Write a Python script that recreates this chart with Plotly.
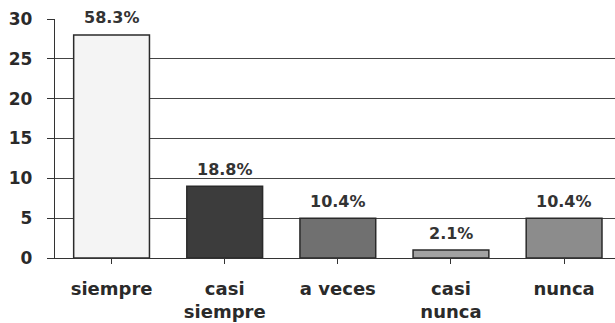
import plotly.graph_objects as go

categories = ["siempre", "casi<br>siempre", "a veces", "casi<br>nunca", "nunca"]
counts = [28, 9, 5, 1, 5]
percent_labels = ["58.3%", "18.8%", "10.4%", "2.1%", "10.4%"]
bar_colors = ["#f4f4f4", "#3c3c3c", "#707070", "#a2a2a2", "#8c8c8c"]
y_ticks = [0, 5, 10, 15, 20, 25, 30]

FONT = "DejaVu Sans, Liberation Sans, Arial, sans-serif"

fig = go.Figure()
fig.add_trace(go.Bar(
    x=list(range(len(categories))),
    y=counts,
    width=0.67,
    marker=dict(color=bar_colors, line=dict(color="#2a2a2a", width=1.5)),
    showlegend=False,
    hoverinfo="skip",
))

for i, (v, t) in enumerate(zip(counts, percent_labels)):
    fig.add_annotation(
        x=i, y=v, text=t, showarrow=False,
        yanchor="middle", yshift=17,
        font=dict(family=FONT, size=16, color="#333333", weight="bold"),
    )

fig.update_layout(
    width=615, height=323,
    margin=dict(l=55, r=0, t=19, b=65),
    paper_bgcolor="white", plot_bgcolor="white",
    bargap=0.33,
)
fig.update_xaxes(
    range=[-0.5, 4.45],
    tickmode="array",
    tickvals=list(range(len(categories))),
    ticktext=[f"<b>{c}</b>" for c in categories],
    tickson="boundaries",
    ticks="outside", ticklen=5, tickcolor="#333", tickwidth=1.3,
    showline=True, linecolor="#333", linewidth=1.3,
    showgrid=False, zeroline=False,
    tickfont=dict(family=FONT, size=18, color="#2a2a2a"),
    ticklabelstandoff=9,
    automargin=False,
)
fig.update_yaxes(
    range=[0, 30],
    tickmode="array", tickvals=y_ticks,
    ticktext=[f"<b>{t}</b>" for t in y_ticks],
    ticks="outside", ticklen=7, tickcolor="#333", tickwidth=1.3,
    showline=True, linecolor="#333", linewidth=1.3,
    showgrid=True, gridcolor="#444444", gridwidth=1.3,
    zeroline=False,
    tickfont=dict(family=FONT, size=17, color="#2a2a2a"),
    ticklabelstandoff=11,
    automargin=False,
)

fig.write_html("out.html")
